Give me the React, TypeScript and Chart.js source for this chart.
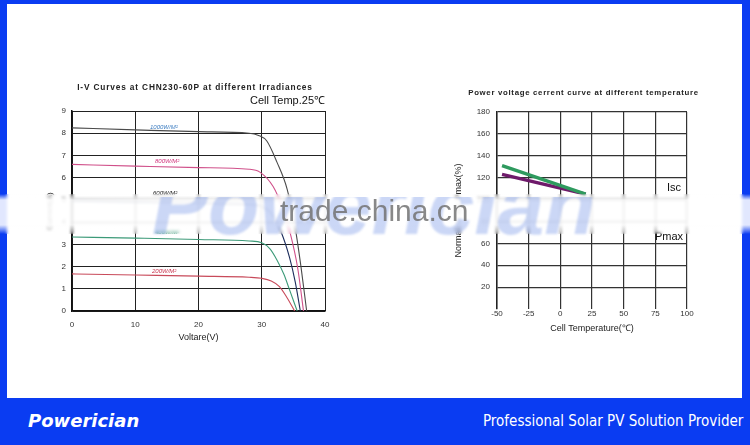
import React, { useEffect, useRef } from 'react';
import { Chart, registerables } from 'chart.js';

Chart.register(...registerables);

// ---------- Left chart: I-V curves ----------
const ivNames = ['1000W/M²', '800W/M²', '600W/M²', '400W/M²', '200W/M²'];
const v1000 = [0, 10, 20, 28, 29.5, 30.8, 32.4, 34, 35.2, 36.2, 37.1];
const i1000 = [8.24, 8.15, 8.07, 8.0, 7.9, 7.65, 6.7, 5.5, 3.9, 2.0, 0];
const v800 = [0, 10, 20, 28, 29.7, 31.8, 33.2, 34.5, 35.7, 36.6];
const i800 = [6.6, 6.52, 6.45, 6.38, 6.25, 5.6, 4.7, 3.5, 1.9, 0];
const v600 = [0, 10, 20, 28, 30, 31.5, 33, 34.4, 35.3, 36.1];
const i600 = [4.95, 4.9, 4.85, 4.8, 4.7, 4.4, 3.6, 2.4, 1.3, 0];
const v400 = [0, 10, 20, 28, 30, 31.3, 32.4, 33.5, 34.4, 35.6];
const i400 = [3.33, 3.28, 3.22, 3.15, 3.07, 2.8, 2.3, 1.65, 0.95, 0];
const v200 = [0, 10, 20, 28, 30, 31.5, 32.8, 34, 35.2];
const i200 = [1.67, 1.62, 1.57, 1.52, 1.47, 1.35, 1.1, 0.6, 0];
const ivLineColors = ['#4a4a4a', '#d0508a', '#1c2c5c', '#3c9a78', '#c84a5a'];
const ivXTicks = [0, 10, 20, 30, 40];
const ivYTicks = [0, 1, 2, 3, 4, 5, 6, 7, 8, 9];

// ---------- Right chart: normalized vs temperature ----------
const tempX = [-46, 20];
const iscVals = [131, 105];
const pmaxVals = [123, 105];
const tempXTicks = [-50, -25, 0, 25, 50, 75, 100];
const tempYTicks = [0, 20, 40, 60, 80, 100, 120, 140, 160, 180];

const FONT = "'Liberation Sans', Arial, sans-serif";

function pts(xs: number[], ys: number[]) {
  return xs.map((x, k) => ({ x, y: ys[k] }));
}

export default function App() {
  const leftRef = useRef<HTMLCanvasElement>(null);
  const rightRef = useRef<HTMLCanvasElement>(null);

  useEffect(() => {
    document.body.style.margin = '0';
    const ivData = [
      pts(v1000, i1000),
      pts(v800, i800),
      pts(v600, i600),
      pts(v400, i400),
      pts(v200, i200),
    ];
    const left = new Chart(leftRef.current!, {
      type: 'line',
      data: {
        datasets: ivData.map((d, k) => ({
          label: ivNames[k],
          data: d,
          borderColor: ivLineColors[k],
          borderWidth: 1.1,
          pointRadius: 0,
          cubicInterpolationMode: 'monotone' as const,
          fill: false,
        })),
      },
      options: {
        animation: false,
        responsive: false,
        maintainAspectRatio: false,
        layout: { padding: { left: 0, right: 15, top: 41, bottom: 0 } },
        plugins: { legend: { display: false }, tooltip: { enabled: false } },
        scales: {
          x: {
            type: 'linear',
            min: 0,
            max: 40,
            afterBuildTicks: (s: any) => {
              s.ticks = ivXTicks.map((v) => ({ value: v }));
            },
            afterFit: (s: any) => {
              s.height = 39;
            },
            grid: { color: '#222', lineWidth: 1, drawTicks: false },
            border: { color: '#111', width: 1.5 },
            ticks: { padding: 9, color: '#333', font: { size: 8, family: FONT } },
            title: {
              display: true,
              text: 'Voltare(V)',
              color: '#222',
              font: { size: 9, family: FONT },
              padding: { top: 0, bottom: 7 },
            },
          },
          y: {
            type: 'linear',
            min: 0,
            max: 9,
            afterBuildTicks: (s: any) => {
              s.ticks = ivYTicks.map((v) => ({ value: v }));
            },
            afterFit: (s: any) => {
              s.width = 32;
            },
            grid: { color: '#222', lineWidth: 1, drawTicks: false },
            border: { color: '#111', width: 1.5 },
            ticks: { padding: 6, color: '#333', font: { size: 8, family: FONT } },
            title: {
              display: true,
              text: 'Current(A)',
              color: '#222',
              font: { size: 8, family: FONT },
              padding: { top: 5, bottom: 0 },
            },
          },
        },
      },
    });

    const right = new Chart(rightRef.current!, {
      type: 'line',
      data: {
        datasets: [
          {
            label: 'Isc',
            data: pts(tempX, iscVals),
            borderColor: '#2e9a5e',
            borderWidth: 3.5,
            pointRadius: 0,
          },
          {
            label: 'Pmax',
            data: pts(tempX, pmaxVals),
            borderColor: '#6e1a6a',
            borderWidth: 3.5,
            pointRadius: 0,
          },
        ],
      },
      options: {
        animation: false,
        responsive: false,
        maintainAspectRatio: false,
        layout: { padding: { left: 0, right: 23, top: 42, bottom: 0 } },
        plugins: { legend: { display: false }, tooltip: { enabled: false } },
        scales: {
          x: {
            type: 'linear',
            min: -50,
            max: 100,
            afterBuildTicks: (s: any) => {
              s.ticks = tempXTicks.map((v) => ({ value: v }));
            },
            afterFit: (s: any) => {
              s.height = 31;
            },
            grid: { color: '#333', lineWidth: 1.2, drawTicks: false },
            border: { display: false },
            ticks: { padding: 0, color: '#333', font: { size: 8, family: FONT } },
            title: {
              display: true,
              text: 'Cell Temperature(℃)',
              color: '#222',
              font: { size: 9, family: FONT },
              padding: { top: 0, bottom: 6 },
            },
          },
          y: {
            type: 'linear',
            min: 0,
            max: 180,
            afterBuildTicks: (s: any) => {
              s.ticks = tempYTicks.map((v) => ({ value: v }));
            },
            afterFit: (s: any) => {
              s.width = 57;
            },
            grid: {
              color: (c: any) => (c.tick && c.tick.value === 0 ? 'rgba(0,0,0,0)' : '#333'),
              lineWidth: 1.2,
              drawTicks: false,
            },
            border: { color: '#222', width: 1.5 },
            ticks: {
              padding: 7,
              color: '#333',
              font: { size: 8, family: FONT },
              callback: (v: any) => (v === 0 ? '' : String(v)),
            },
            title: {
              display: true,
              text: 'Normalize Isc,Pmax(%)',
              color: '#222',
              font: { size: 9, family: FONT },
              padding: { top: 13, bottom: 0 },
            },
          },
        },
      },
    });

    return () => {
      left.destroy();
      right.destroy();
    };
  }, []);

  const abs = (s: React.CSSProperties): React.CSSProperties => ({ position: 'absolute', ...s });
  const labelFont: React.CSSProperties = {
    fontFamily: FONT,
    fontSize: 6,
    fontStyle: 'italic',
    whiteSpace: 'nowrap',
    lineHeight: '8px',
  };

  return (
    <div style={{ position: 'fixed', left: 0, top: 0, width: 750, height: 445, background: '#0a3cf2', overflow: 'hidden' }}>
      <div style={abs({ left: 7, top: 4, width: 735, height: 394, background: '#fff' })} />

      <canvas ref={leftRef} width={300} height={280} style={abs({ left: 40, top: 70, width: 300, height: 280 })} />
      <canvas ref={rightRef} width={270} height={270} style={abs({ left: 440, top: 70, width: 270, height: 270 })} />

      {/* left chart titles */}
      <div style={abs({ left: 60, top: 82, width: 270, textAlign: 'center', fontFamily: FONT, fontSize: 8.3, fontWeight: 'bold', letterSpacing: 0.85, color: '#222', whiteSpace: 'nowrap', lineHeight: '10px' })}>
        I-V Curves at CHN230-60P at different Irradiances
      </div>
      <div style={abs({ left: 250, top: 94, fontFamily: FONT, fontSize: 11, color: '#111', whiteSpace: 'nowrap', lineHeight: '13px' })}>
        Cell Temp.25℃
      </div>

      {/* irradiance labels */}
      <div style={abs({ left: 150, top: 123, color: '#3b7cc0', ...labelFont })}>{ivNames[0]}</div>
      <div style={abs({ left: 155, top: 157, color: '#d0307a', ...labelFont })}>{ivNames[1]}</div>
      <div style={abs({ left: 153, top: 189, color: '#222', ...labelFont })}>{ivNames[2]}</div>
      <div style={abs({ left: 155, top: 228, color: '#2a8a6a', ...labelFont })}>{ivNames[3]}</div>
      <div style={abs({ left: 152, top: 267, color: '#c8304a', ...labelFont })}>{ivNames[4]}</div>

      {/* right chart title and labels */}
      <div style={abs({ left: 455, top: 88, width: 257, textAlign: 'center', fontFamily: FONT, fontSize: 7.8, fontWeight: 'bold', letterSpacing: 0.7, color: '#222', whiteSpace: 'nowrap', lineHeight: '10px' })}>
        Power voltage cerrent curve at different temperature
      </div>
      <div style={abs({ left: 667, top: 181, fontFamily: FONT, fontSize: 11, color: '#111', lineHeight: '13px' })}>Isc</div>
      <div style={abs({ left: 655, top: 230, fontFamily: FONT, fontSize: 11, color: '#111', lineHeight: '13px' })}>Pmax</div>

      {/* watermark band */}
      <div
        style={abs({
          left: 0,
          top: 194,
          width: 750,
          height: 40,
          background:
            'linear-gradient(to bottom, rgba(255,255,255,0) 0px, rgba(255,255,255,0.88) 6px, rgba(255,255,255,0.88) 31px, rgba(255,255,255,0) 40px)',
          backdropFilter: 'blur(1.5px)',
        })}
      />
      <div style={abs({ left: 0, top: 197, width: 750, height: 50, overflow: 'hidden' })}>
        <div
          style={abs({
            left: 152,
            top: -42,
            fontFamily: FONT,
            fontSize: 84,
            fontWeight: 'bold',
            fontStyle: 'italic',
            color: 'rgba(110,145,230,0.36)',
            whiteSpace: 'nowrap',
            lineHeight: '100px',
            filter: 'blur(0.8px)',
          })}
        >
          Powerician
        </div>
      </div>
      <div style={abs({ left: 280, top: 194, fontFamily: FONT, fontSize: 30, color: 'rgba(115,115,115,0.85)', whiteSpace: 'nowrap', lineHeight: '34px' })}>
        trade.china.cn
      </div>

      {/* footer */}
      <div style={abs({ left: 28, top: 409, fontFamily: "'DejaVu Sans', sans-serif", fontSize: 18, fontWeight: 'bold', fontStyle: 'italic', color: '#fff', whiteSpace: 'nowrap', lineHeight: '24px' })}>
        Powerician
      </div>
      <div style={abs({ left: 483, top: 411, width: 262, fontFamily: "'Liberation Sans Narrow', 'DejaVu Sans Condensed', 'Liberation Sans', sans-serif", fontSize: 15, color: '#fff', whiteSpace: 'nowrap', lineHeight: '20px' })}>
        Professional Solar PV Solution Provider
      </div>
    </div>
  );
}
